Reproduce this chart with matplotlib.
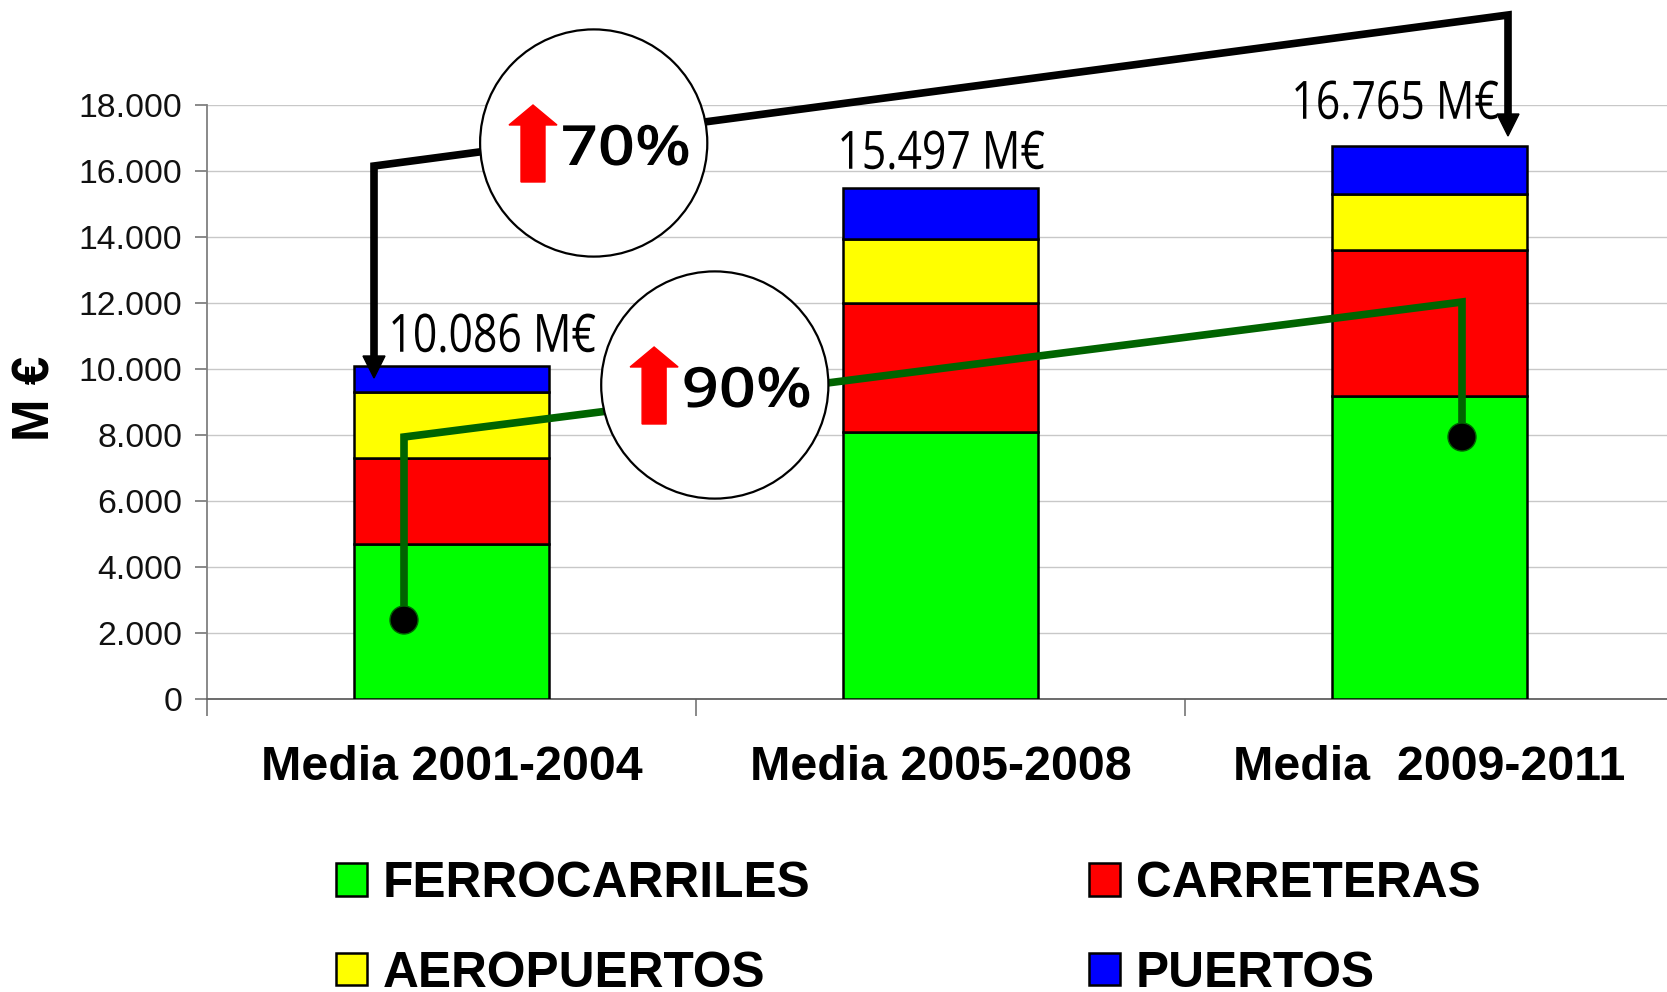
import matplotlib
matplotlib.use("Agg")
import matplotlib.pyplot as plt
from matplotlib.patches import Circle, Polygon
from matplotlib.patheffects import AbstractPathEffect
from matplotlib.transforms import Affine2D

categorias = ["Media 2001-2004", "Media 2005-2008", "Media  2009-2011"]
ferrocarriles = [4705, 8090, 9170]
carreteras = [2610, 3900, 4445]
aeropuertos = [2000, 1965, 1690]
puertos = [771, 1542, 1460]
totales = ["10.086 M€", "15.497 M€", "16.765 M€"]
y_ticks = [0, 2000, 4000, 6000, 8000, 10000, 12000, 14000, 16000, 18000]
y_labels = ["0", "2.000", "4.000", "6.000", "8.000", "10.000", "12.000", "14.000", "16.000", "18.000"]

W, H = 1667, 992


class Estirar(AbstractPathEffect):
    # estrecha o ensancha el texto en horizontal alrededor de xc (en pixeles)
    def __init__(self, xc, factor):
        super().__init__()
        self.xc = xc
        self.factor = factor

    def draw_path(self, renderer, gc, tpath, affine, rgbFace):
        t = Affine2D().translate(-self.xc, 0).scale(self.factor, 1).translate(self.xc, 0)
        renderer.draw_path(gc, tpath, affine + t, rgbFace)


fig = plt.figure(figsize=(W / 100, H / 100), dpi=100)
ax = fig.add_axes([207.0 / W, 1 - 698.8 / H, 1466.8 / W, 593.7 / H])
arial = "Liberation Sans"

x = [0.5, 1.5, 2.5]
abajo = [0, 0, 0]
barras = []
for valores, color, nombre in [(ferrocarriles, "#00ff00", "FERROCARRILES"),
                               (carreteras, "#ff0000", "CARRETERAS"),
                               (aeropuertos, "#ffff00", "AEROPUERTOS"),
                               (puertos, "#0000ff", "PUERTOS")]:
    b = ax.bar(x, valores, 0.4, bottom=abajo, color=color, edgecolor="black",
               linewidth=1.8, label=nombre, zorder=3)
    barras.append(b)
    abajo = [a + v for a, v in zip(abajo, valores)]

ax.set_xlim(0, 3)
ax.set_ylim(0, 18000)
ax.set_yticks(y_ticks)
ax.set_yticklabels(y_labels, family=arial, fontsize=24.3, color="#111111")
ax.set_xticks([0, 1, 2, 3])
ax.set_xticklabels([])
ax.set_xticks(x, minor=True)
ax.set_xticklabels(categorias, minor=True, family=arial, fontsize=34.8, fontweight="bold")
ax.tick_params(axis="x", which="minor", length=0, pad=33.5)
ax.tick_params(axis="x", which="major", length=12, color="#808080", width=1.3)
ax.tick_params(axis="y", length=9, color="#808080", width=1.3, pad=9)
ax.grid(axis="y", color="#c8c8c8", linewidth=1, zorder=0)
ax.set_axisbelow(True)
for lado in ["top", "right"]:
    ax.spines[lado].set_visible(False)
ax.spines["left"].set_color("#808080")
ax.spines["left"].set_linewidth(1.3)
ax.spines["bottom"].set_color("#606060")
ax.spines["bottom"].set_linewidth(1.3)

fig.text(35.5 / W, 1 - 398 / H, "M €", family=arial, fontsize=36.8, fontweight="bold",
         rotation=90, ha="center", va="center")

# leyenda en dos columnas, igual que en el original
orden = [barras[0], barras[2], barras[1], barras[3]]
nombres = ["FERROCARRILES", "AEROPUERTOS", "CARRETERAS", "PUERTOS"]
fig.legend(orden, nombres, ncol=2, frameon=False, loc="upper left",
           bbox_to_anchor=(336 / W, 1 - 861 / H), borderaxespad=0, borderpad=0,
           prop={"family": arial, "size": 35.7, "weight": "bold"},
           handlelength=0.63, handleheight=0.63, handletextpad=0.31,
           labelspacing=0.88, columnspacing=5.62)

# capa en pixeles para las flechas y los circulos
capa = fig.add_axes([0, 0, 1, 1])
capa.set_xlim(0, W)
capa.set_ylim(H, 0)
capa.axis("off")
capa.patch.set_alpha(0)

for xt, yt, texto in [(492, 338, totales[0]), (941, 155, totales[1]), (1395, 105, totales[2])]:
    capa.text(xt, yt, texto, family="Open Sans", fontsize=38, ha="center", va="center",
              path_effects=[Estirar(xt, 0.81)])

capa.plot([374, 374, 1508, 1508], [360, 166, 15, 118], color="black", lw=5.5,
          solid_joinstyle="miter", zorder=5)
for xa, ya in [(374, 378), (1508, 136)]:
    capa.add_patch(Polygon([(xa - 11, ya - 22), (xa + 11, ya - 22), (xa, ya)], color="black", zorder=5))

capa.plot([404, 404, 1462, 1462], [620, 437, 302, 437], color="#006400", lw=5.5,
          solid_joinstyle="miter", zorder=5)
for xc, yc in [(404, 620), (1462, 437)]:
    capa.add_patch(Circle((xc, yc), 14, facecolor="black", edgecolor="#006400", lw=1, zorder=6))

for xc, yc, texto in [(593.7, 143, "70%"), (714.8, 385, "90%")]:
    capa.add_patch(Circle((xc, yc), 113.6, facecolor="white", edgecolor="black", lw=1.6, zorder=7))
    xa, ya = xc - 60.7, yc - 38
    capa.add_patch(Polygon([(xa, ya), (xa + 24, ya + 20), (xa + 12, ya + 20), (xa + 12, ya + 77),
                            (xa - 12, ya + 77), (xa - 12, ya + 20), (xa - 24, ya + 20)],
                           color="#ff0000", zorder=8))
    capa.text(xc + 32, yc + 8, texto, family="Open Sans", fontweight="semibold", fontsize=40,
              ha="center", va="center", zorder=8, path_effects=[Estirar(xc + 32, 1.17)])

fig.savefig("out.png", dpi=100)
